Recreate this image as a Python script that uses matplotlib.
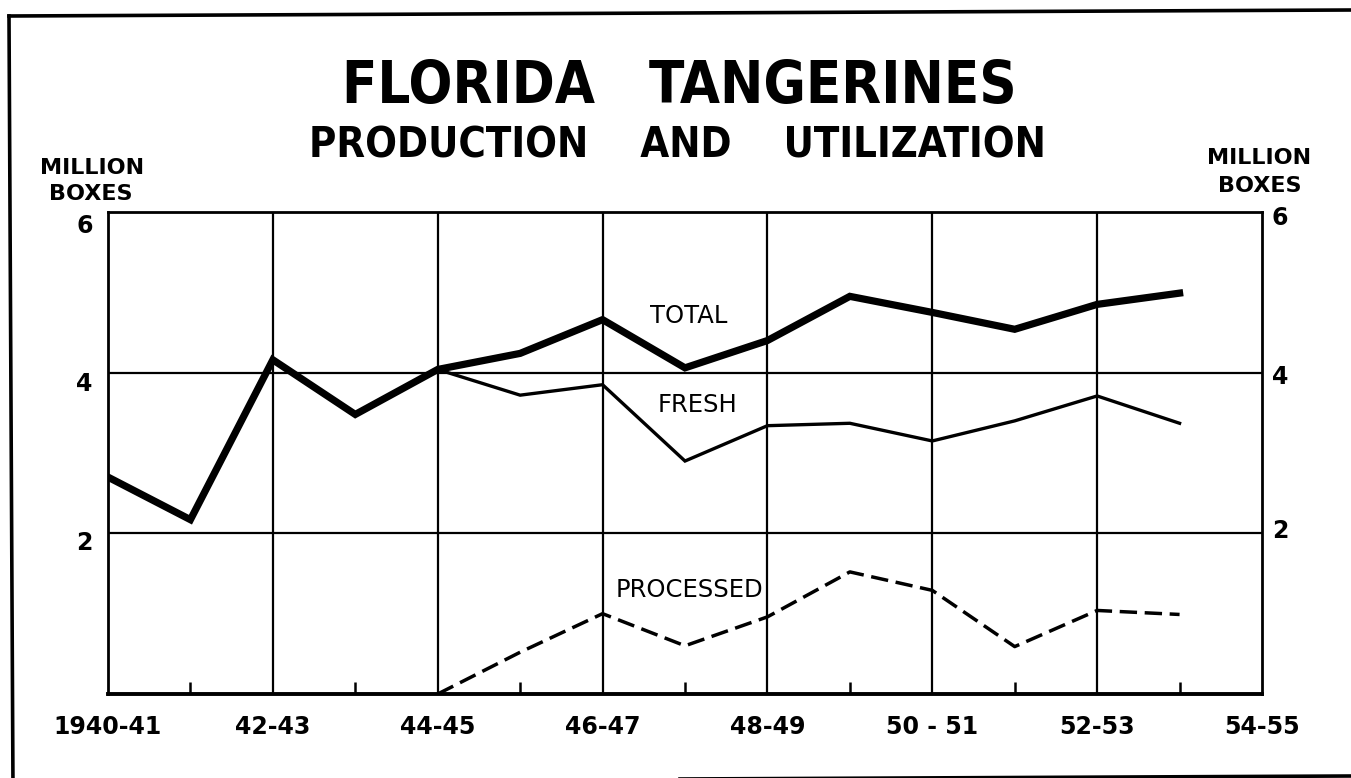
import matplotlib
matplotlib.use("Agg")
import matplotlib.pyplot as plt
from matplotlib import font_manager
from matplotlib.lines import Line2D

# ---------------- data ----------------
seasons = ["1940-41", "41-42", "42-43", "43-44", "44-45", "45-46", "46-47",
           "47-48", "48-49", "49-50", "50-51", "51-52", "52-53", "53-54", "54-55"]
tick_labels = ["1940-41", "42-43", "44-45", "46-47", "48-49", "50 - 51", "52-53", "54-55"]
total = [2.70, 2.17, 4.16, 3.48, 4.04, 4.24, 4.66, 4.06, 4.40, 4.95, 4.75, 4.54, 4.85, 4.99]
fresh_start = 4  # 44-45
fresh = [4.04, 3.72, 3.85, 2.90, 3.34, 3.37, 3.15, 3.40, 3.71, 3.37]
processed = [0.0, 0.52, 1.00, 0.60, 0.96, 1.52, 1.29, 0.59, 1.04, 0.99]
y_ticks = [2, 4, 6]

# ---------------- fonts ----------------
base = "DejaVu Sans"
cond = None
for f in font_manager.fontManager.ttflist:
    fn = f.fname.lower()
    if ("condensed" in fn or "narrow" in fn) and ("bold" in fn) and "mono" not in fn and "serif" not in fn:
        cond = f
        break
if cond is not None:
    title_font = dict(fontproperties=font_manager.FontProperties(fname=cond.fname))
    t1, t2 = 41.5, 30
else:
    title_font = dict(family=base, fontweight="bold")
    t1, t2 = 37.5, 26.5

W, H = 1351, 778
fig = plt.figure(figsize=(W / 100, H / 100), dpi=100)
fig.patch.set_facecolor("white")

def fx(px):
    return px / W

def fy(py):
    return 1 - py / H

ax = fig.add_axes([fx(108), fy(694), fx(1262) - fx(108), fy(212) - fy(694)])
ax.set_xlim(0, 14)
ax.set_ylim(0, 6)

x_total = list(range(len(total)))
x_fresh = list(range(fresh_start, fresh_start + len(fresh)))
x_proc = list(range(fresh_start, fresh_start + len(processed)))

# grid
for gx in range(2, 14, 2):
    ax.axvline(gx, color="black", lw=1.6, zorder=1)
for gy in y_ticks[:-1]:
    ax.axhline(gy, color="black", lw=1.6, zorder=1)

ax.plot(x_total, total, color="black", lw=5.2, solid_joinstyle="miter", zorder=4)
ax.plot(x_fresh, fresh, color="black", lw=2.4, solid_joinstyle="miter", zorder=3)
ax.plot(x_proc, processed, color="black", lw=2.5, dashes=(5.0, 2.2), zorder=3)

for s in ax.spines.values():
    s.set_linewidth(2.0)
ax.spines["bottom"].set_linewidth(2.8)

# ticks
ax.set_xticks(range(0, 15, 2))
ax.set_xticklabels(tick_labels, fontsize=17, fontweight="bold", family=base)
ax.set_xticks(range(1, 14, 2), minor=True)
ax.tick_params(axis="x", which="major", length=0, pad=15)
ax.tick_params(axis="x", which="minor", direction="in", length=9, width=1.8)
ax.set_yticks([])

# y labels on both sides
for v, dl, dr in zip(y_ticks, (-7, -8, -10), (0, -5, -6)):
    ax.annotate(str(v), xy=(0, v), xycoords=("axes fraction", "data"),
                xytext=(-11, dl), textcoords="offset points",
                ha="right", va="center", fontsize=17, fontweight="bold", family=base)
    ax.annotate(str(v), xy=(1, v), xycoords=("axes fraction", "data"),
                xytext=(7, dr + 2), textcoords="offset points",
                ha="left", va="center", fontsize=17, fontweight="bold", family=base)

# series labels
ax.text(7.05, 4.7, "TOTAL", fontsize=17.5, family=base, ha="center", va="center")
ax.text(7.15, 3.6, "FRESH", fontsize=17.5, family=base, ha="center", va="center")
ax.text(7.05, 1.3, "PROCESSED", fontsize=17.5, family=base, ha="center", va="center")

# titles
fig.text(fx(679), fy(86), "FLORIDA   TANGERINES", fontsize=t1,
         ha="center", va="center", **title_font)
fig.text(fx(677), fy(145), "PRODUCTION    AND    UTILIZATION", fontsize=t2,
         ha="center", va="center", **title_font)

# axis unit captions
cap_kw = dict(fontsize=16, fontweight="bold", family=base, ha="center", va="center")
fig.text(fx(92), fy(168), "MILLION", **cap_kw)
fig.text(fx(91), fy(194), "BOXES", **cap_kw)
fig.text(fx(1259), fy(158), "MILLION", **cap_kw)
fig.text(fx(1260), fy(186), "BOXES", **cap_kw)

# outer frame of the page
frame_kw = dict(color="black", lw=2.6, transform=fig.transFigure, clip_on=False)
fig.add_artist(Line2D([fx(9), fx(1351)], [fy(16), fy(10)], **frame_kw))
fig.add_artist(Line2D([fx(9), fx(13)], [fy(16), fy(790)], **frame_kw))
fig.add_artist(Line2D([fx(9), fx(1351)], [fy(782), fy(776)], **frame_kw))

fig.savefig("out.png", dpi=100, facecolor="white")
